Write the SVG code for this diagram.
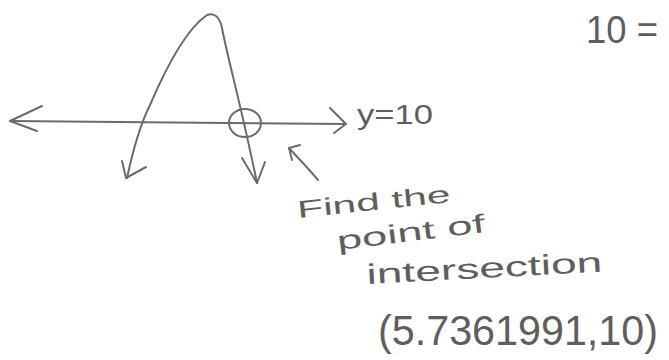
<svg xmlns="http://www.w3.org/2000/svg" width="669" height="360" viewBox="0 0 669 360">
<style>
.ln{fill:none;stroke:#6b6b6b;stroke-width:2;stroke-linecap:round;stroke-linejoin:round}
.tx{font-family:"Liberation Sans",Arial,sans-serif;fill:#5e5e5e;font-weight:normal}
</style>
<rect width="669" height="360" fill="#fff"/>
<g id="connectors">
<g id="axis">
<path class="ln" d="M10,121 C120,122 240,123 345,124"/>
<path class="ln" d="M42,106 L10,121 L37,131"/>
<path class="ln" d="M330,108 L346,124 L334,133"/>
</g>
<g id="curve">
<path class="ln" d="M127,178 C133,150 140,125 150,105 C165,70 185,30 207,15 C215,12 220,18 222,28 C228,60 240,100 257,183"/>
<path class="ln" d="M122,161 L126,178 L146,167"/>
<path class="ln" d="M242,158 L257,183 L265,162"/>
</g>
<g id="pointer">
<path class="ln" d="M318,180 C308,168 298,158 289,148"/>
<path class="ln" d="M300,145 L289,148 L292,160"/>
</g>
</g>
<g id="intersection-point">
<ellipse class="ln" cx="245" cy="123" rx="16" ry="14"/>
</g>
<g id="label-y10">
<text class="tx" x="357" y="124" font-size="28" textLength="76" lengthAdjust="spacingAndGlyphs">y=10</text>
</g>
<g id="label-top">
<text class="tx" x="586" y="43" font-size="38" textLength="72" lengthAdjust="spacingAndGlyphs">10 =</text>
</g>
<g id="note">
<text class="tx" x="298" y="218" font-size="24" textLength="154" lengthAdjust="spacingAndGlyphs" transform="rotate(-6 298 218)">Find the</text>
<text class="tx" x="338" y="250" font-size="26" textLength="149" lengthAdjust="spacingAndGlyphs" transform="rotate(-7 338 250)">point of</text>
<text class="tx" x="367" y="284" font-size="28" textLength="236" lengthAdjust="spacingAndGlyphs" transform="rotate(-3 367 284)">intersection</text>
<text class="tx" x="378" y="345" font-size="42" textLength="280" lengthAdjust="spacingAndGlyphs">(5.7361991,10)</text>
</g>
</svg>
